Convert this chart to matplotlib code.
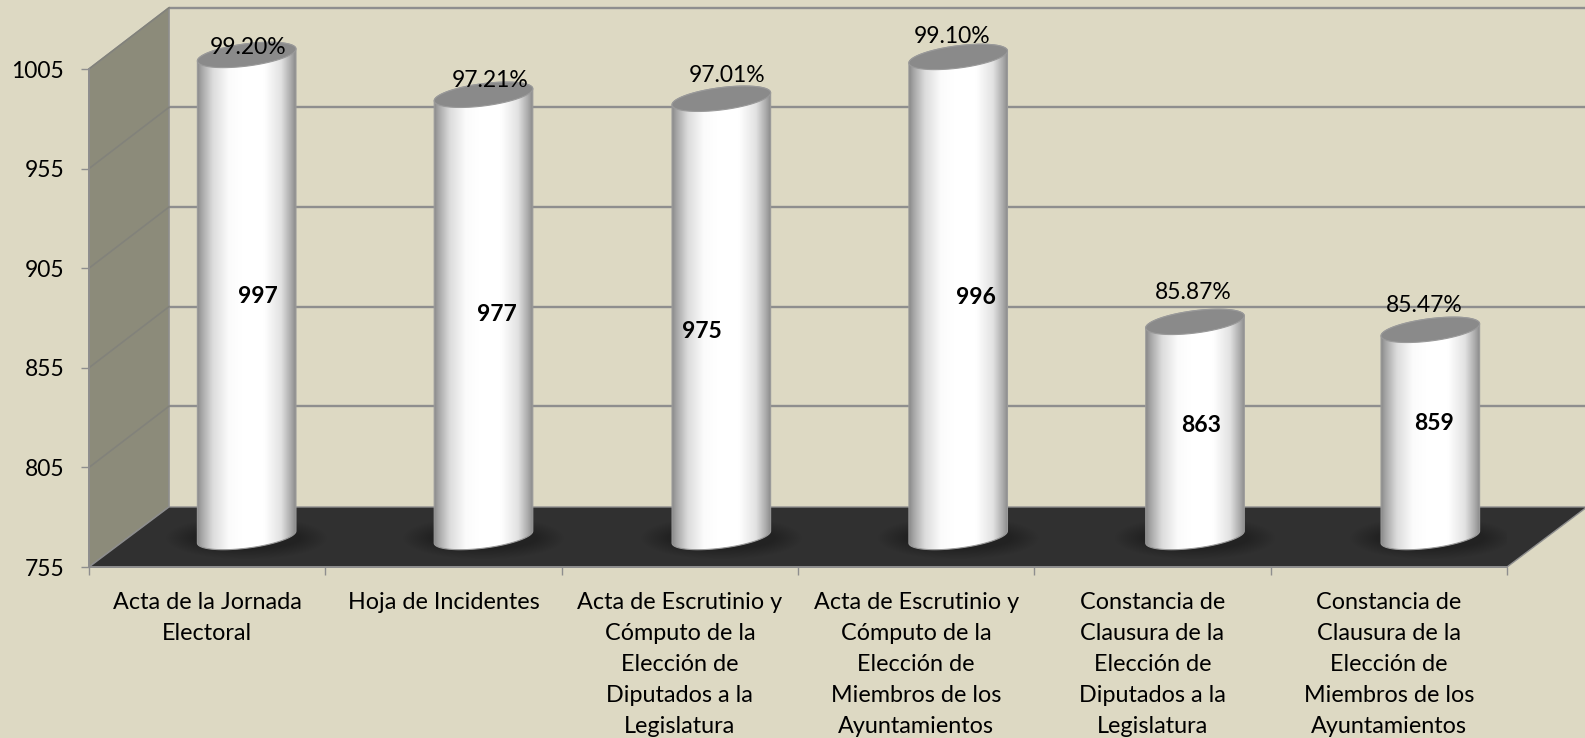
import numpy as np
import matplotlib
matplotlib.use("Agg")
import matplotlib.pyplot as plt
from matplotlib.colors import LinearSegmentedColormap
from matplotlib.patches import Polygon, PathPatch, Ellipse
from matplotlib.path import Path
from matplotlib.transforms import Affine2D, IdentityTransform

categories = [
    "Acta de la Jornada\nElectoral",
    "Hoja de Incidentes",
    "Acta de Escrutinio y\nCómputo de la\nElección de\nDiputados a la\nLegislatura",
    "Acta de Escrutinio y\nCómputo de la\nElección de\nMiembros de los\nAyuntamientos",
    "Constancia de\nClausura de la\nElección de\nDiputados a la\nLegislatura",
    "Constancia de\nClausura de la\nElección de\nMiembros de los\nAyuntamientos",
]
values = [997, 977, 975, 996, 863, 859]
percent_labels = ["99.20%", "97.21%", "97.01%", "99.10%", "85.87%", "85.47%"]
y_ticks = [755, 805, 855, 905, 955, 1005]

# hand-placed label nudges in the original (pixels)
pct_offsets = [(-1, 7), (5, 14), (6, 23), (-6, 20), (-1, 29), (-6, 24)]
val_offsets = [(9, -1), (12, 1), (-19, -14), (18, -1), (7, 4), (4, 10)]
bar_nudges = [-2, -1.5, 0, 0.5, 1, 0]

BG = "#DDD9C3"
WALL = "#8C8B7A"
FLOOR = "#303030"
LINE = "#8E8E8E"
FONT = "Lato"
FS = 16.8

W, H = 1585, 738
fig = plt.figure(figsize=(W / 100, H / 100), dpi=100, facecolor=BG)
ax = fig.add_axes([89 / W, 1 - 567 / H, (1507 - 89) / W, 498 / H])
ax.patch.set_visible(False)
ax.set_xlim(0, len(values))
ax.set_ylim(min(y_ticks), max(y_ticks))

DX, DY = 80, 60          # depth of the 3D box, pixels
GRID_DY = 61.2           # back-wall lines sit slightly higher
BAR_DX = 41.5            # cylinders' horizontal depth offset, pixels
BAR_HALF = 49.3          # cylinder half width, pixels
TILT, MINOR = 6.0, 11.2  # ellipse tilt and minor axis, pixels


def px(x, y, dx=0.0, dy=0.0):
    p = ax.transData.transform((x, y))
    return p[0] + dx, p[1] + dy


def poly(points, **kw):
    p = Polygon(points, closed=True, transform=IdentityTransform(), clip_on=False, **kw)
    ax.add_patch(p)
    return p


x0, x1 = ax.get_xlim()
y0, y1 = ax.get_ylim()

# side wall and floor
poly([px(x0, y0), px(x0, y1), px(x0, y1, DX, GRID_DY), px(x0, y0, DX, DY)],
     facecolor=WALL, edgecolor=LINE, lw=1.2, zorder=1)
floor = poly([px(x0, y0), px(x1, y0), px(x1, y0, DX, DY), px(x0, y0, DX, DY)],
             facecolor=FLOOR, edgecolor=LINE, lw=1.0, zorder=1.5)

# grid lines on the back wall and the side wall
for tk in y_ticks[1:]:
    a, b = px(x0, tk, DX, GRID_DY), px(x1, tk, DX, GRID_DY)
    ax.plot([a[0], b[0]], [a[1], b[1]], color=LINE, lw=1.7, transform=IdentityTransform(),
            clip_on=False, zorder=1.2, solid_capstyle="butt")
    c = px(x0, tk)
    ax.plot([c[0], a[0]], [c[1], a[1]], color="#82827A", lw=1.2, transform=IdentityTransform(),
            clip_on=False, zorder=1.2)

# cylinder shading
cmap = LinearSegmentedColormap.from_list(
    "cyl",
    [(0.0, "#8A8A8A"), (0.05, "#A8A8A8"), (0.16, "#DCDCDC"), (0.32, "#FBFBFB"),
     (0.45, "#FFFFFF"), (0.68, "#FFFFFF"), (0.85, "#E2E2E2"), (0.95, "#ABABAB"), (1.0, "#8A8A8A")])
grad = np.linspace(0, 1, 256).reshape(1, -1)
t = np.linspace(0, 2 * np.pi, 121)


def ellipse_pts(cx, cy, ts):
    return np.column_stack([cx + BAR_HALF * np.cos(ts),
                            cy + MINOR * np.sin(ts) + TILT * np.cos(ts)])


for i, v in enumerate(values):
    xc = i + 0.5
    cx, cb = px(xc, y0, BAR_DX + bar_nudges[i], DY / 2)
    _, ct = px(xc, v, BAR_DX, DY / 2)

    # soft shadow on the floor
    for k in range(14):
        f = 1 - k / 14
        e = Ellipse((cx, cb - 1), 2 * (52 + 28 * f), 2 * (10 + 11 * f),
                    facecolor="black", edgecolor="none", alpha=0.018,
                    transform=IdentityTransform(), zorder=1.6)
        ax.add_patch(e)
        e.set_clip_path(floor)

    # body
    lower = ellipse_pts(cx, cb, np.linspace(np.pi, 2 * np.pi, 60))
    upper = ellipse_pts(cx, ct, np.linspace(0, np.pi, 60))
    outline = np.vstack([lower, upper, lower[:1]])
    path = Path(outline, closed=True)
    im = ax.imshow(grad, cmap=cmap, aspect="auto", interpolation="bilinear", zorder=3,
                   extent=(0, 1, 0, 1), origin="lower")
    im.set_transform(Affine2D().scale(2 * BAR_HALF, ct + 30 - cb + 30).translate(cx - BAR_HALF, cb - 30))
    im.set_clip_box(fig.bbox)
    im.set_clip_path(path, IdentityTransform())
    ax.add_patch(PathPatch(path, facecolor="none", edgecolor="#9A9A9A", lw=0.8,
                           transform=IdentityTransform(), clip_on=False, zorder=3.1))
    # top
    ax.add_patch(Polygon(ellipse_pts(cx, ct, t), closed=True, facecolor="#8A8A8A", edgecolor="#9A9A9A",
                         lw=0.8, transform=IdentityTransform(), clip_on=False, zorder=3.2))
    # labels
    ax.annotate(percent_labels[i], (xc, v), xycoords="data",
                xytext=(BAR_DX + pct_offsets[i][0], DY / 2 + pct_offsets[i][1]), textcoords="offset pixels",
                ha="center", va="center", fontsize=FS - 0.3, family=FONT, color="black", zorder=5,
                annotation_clip=False)
    ax.annotate(str(v), (xc, (v + y0) / 2), xycoords="data",
                xytext=(BAR_DX + val_offsets[i][0], DY / 2 + val_offsets[i][1]), textcoords="offset pixels",
                ha="center", va="center", fontsize=16.5, family=FONT, fontweight="bold", color="black", zorder=5,
                annotation_clip=False)

ax.set_xlim(x0, x1)
ax.set_ylim(y0, y1)

# axes
for s in ("top", "right"):
    ax.spines[s].set_visible(False)
for s in ("left", "bottom"):
    ax.spines[s].set_color(LINE)
    ax.spines[s].set_linewidth(1.4)
    ax.spines[s].set_zorder(2)

ax.set_yticks(y_ticks)
ax.set_yticklabels([str(v) for v in y_ticks], fontsize=16.5, family=FONT, color="black")
ax.tick_params(axis="y", length=5.8, width=1.0, color=LINE, pad=12)
ax.set_xticks(range(len(values) + 1))
ax.set_xticklabels([])
ax.tick_params(axis="x", which="major", length=6, width=1.0, color=LINE)
ax.set_xticks(np.arange(len(values)) + 0.5, minor=True)
ax.set_xticklabels(categories, minor=True, fontsize=FS, family=FONT, color="black",
                   linespacing=1.59, ha="center", va="top")
ax.tick_params(axis="x", which="minor", length=0, pad=18)

fig.savefig("out.png", dpi=100, facecolor=BG)
